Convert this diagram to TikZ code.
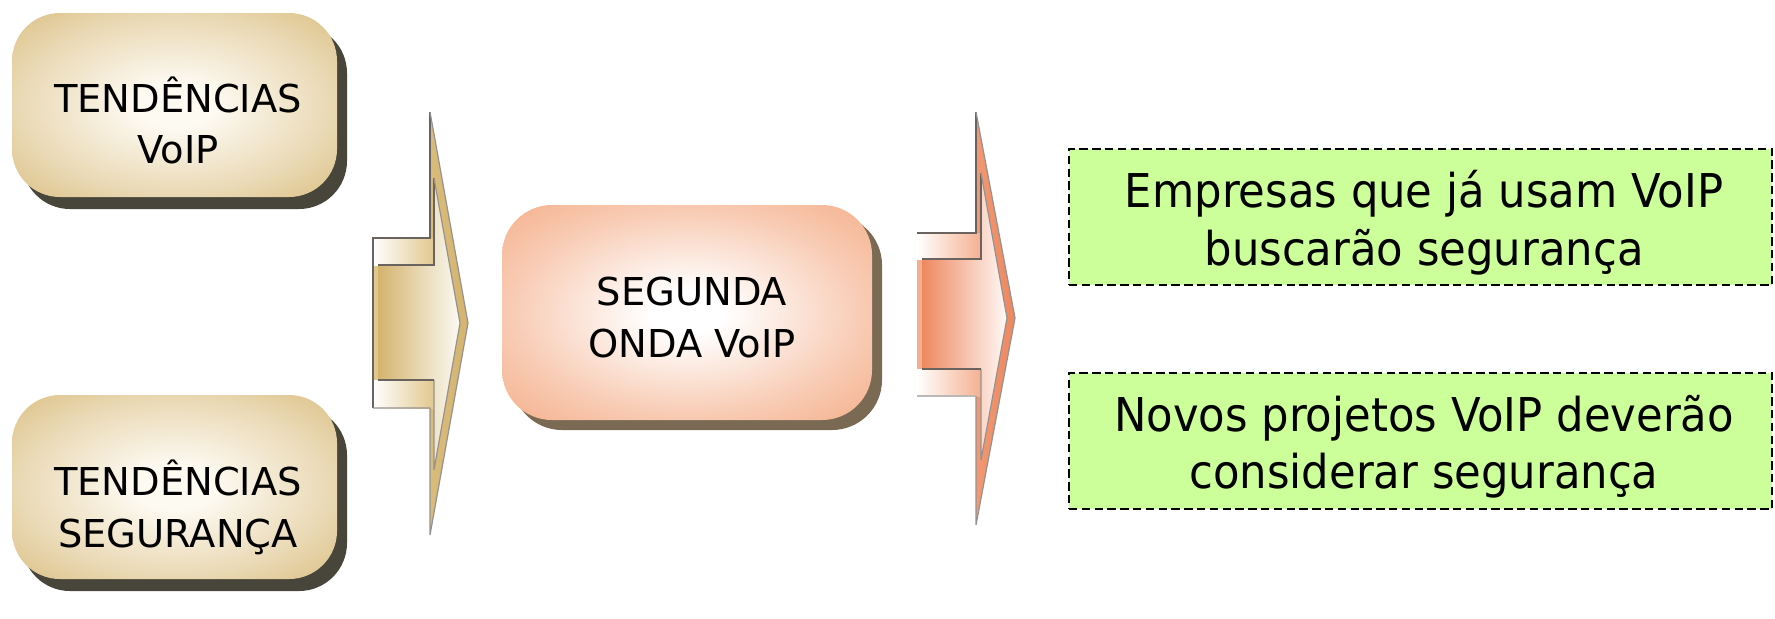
\documentclass[tikz,border=0pt]{standalone}
\usepackage{fontspec}
\setmainfont{DejaVu Sans}
\newfontfamily\condfont[FakeStretch=0.93]{DejaVu Sans}
\usetikzlibrary{shadows}

\definecolor{goldEdge}{RGB}{222,196,140}
\definecolor{goldCore}{RGB}{253,250,242}
\definecolor{goldShadow}{RGB}{72,70,58}
\definecolor{goldDark}{RGB}{212,180,110}
\definecolor{goldMid}{RGB}{226,200,142}
\definecolor{salmonEdge}{RGB}{245,180,146}
\definecolor{salmonShadow}{RGB}{122,106,84}
\definecolor{salDark}{RGB}{238,136,96}
\definecolor{salMid}{RGB}{245,176,144}
\definecolor{leafGreen}{RGB}{204,255,153}
\definecolor{edgeGray}{RGB}{105,100,95}

% soft glow: pale core, edge colour reached only towards the corners
\pgfdeclareradialshading{goldglow}{\pgfpoint{0bp}{0bp}}{%
  color(0bp)=(goldCore); color(6bp)=(goldCore); color(24bp)=(white!35!goldEdge);
  color(34bp)=(goldEdge); color(50bp)=(goldEdge)}
\pgfdeclareradialshading{salmonglow}{\pgfpoint{0bp}{0bp}}{%
  color(0bp)=(white); color(5bp)=(white); color(24bp)=(white!30!salmonEdge);
  color(34bp)=(salmonEdge); color(50bp)=(salmonEdge)}

\tikzset{
  goldbox/.style={rectangle, rounded corners=24pt, shade, shading=goldglow,
    minimum width=162.5pt, minimum height=92pt,
    drop shadow={shadow xshift=5pt, shadow yshift=-6pt, fill=goldShadow, opacity=1}},
  salmonbox/.style={rectangle, rounded corners=25pt, shade, shading=salmonglow,
    minimum width=185pt, minimum height=107.5pt,
    drop shadow={shadow xshift=5pt, shadow yshift=-5pt, fill=salmonShadow, opacity=1}},
  notebox/.style={rectangle, fill=leafGreen, draw=black, line width=1.25pt,
    dash pattern=on 4.2pt off 2.2pt, minimum width=351.5pt, minimum height=68pt},
  capline/.style={anchor=base, inner sep=0pt, font=\fontsize{19.2}{22}\selectfont},
  noteline/.style={anchor=base, inner sep=0pt, font=\condfont\fontsize{23.3}{28}\selectfont},
  darkrule/.style={draw=edgeGray, line width=0.9pt},
  softrule/.style={draw=edgeGray!70, line width=0.6pt},
}

\begin{document}
\begin{tikzpicture}[x=0.5pt, y=-0.5pt]
\useasboundingbox (0,0) rectangle (1775,618);

% --- input boxes ---
\node[goldbox] (voip) at (174.5,105) {};
\node[capline] (voip1) at (178,112) {TENDÊNCIAS};
\node[capline] (voip2) at (178,163) {VoIP};

\node[goldbox] (sec) at (174.5,487) {};
\node[capline] (sec1) at (178,495) {TENDÊNCIAS};
\node[capline] (sec2) at (178,547) {SEGURANÇA};

% --- first block arrow (gold) ---
\path[left color=goldMid, right color=goldDark]
  (373,238) -- (430,238) -- (430,112) -- (468,323) -- (430,535) -- (430,408) -- (373,408) -- cycle;
\path[left color=white, right color=goldMid] (373,238) rectangle (434,265);
\path[left color=white, right color=goldMid] (373,380) rectangle (434,408);
\path[left color=goldDark, middle color=white, right color=white!90!goldMid]
  (378,265) -- (434,265) -- (434,178) -- (460,323) -- (434,470) -- (434,380) -- (378,380) -- cycle;
\draw[darkrule] (373,408) -- (373,238) -- (430,238) -- (430,112);
\draw[softrule] (430,112) -- (468,323) -- (430,535) -- (430,408) -- (373,408);
\draw[darkrule] (378,265) -- (434,265) -- (434,178);
\draw[softrule] (434,178) -- (460,323) -- (434,470) -- (434,380);
\draw[darkrule] (378,380) -- (434,380);

% --- central box ---
\node[salmonbox] (wave) at (687,312.5) {};
\node[capline] (wave1) at (692,305) {SEGUNDA};
\node[capline] (wave2) at (692,357) {ONDA VoIP};

% --- second block arrow (salmon) ---
\path[left color=salMid, right color=salDark]
  (917,233) -- (976,233) -- (976,112) -- (1015,318) -- (976,525) -- (976,396) -- (917,396) -- cycle;
\path[left color=white, right color=salMid] (917,233) rectangle (981,259);
\path[left color=white, right color=salMid] (917,369) rectangle (981,396);
\path[left color=salDark, middle color=white, right color=white!92!salMid]
  (922,259) -- (981,259) -- (981,173) -- (1007,318) -- (981,460) -- (981,369) -- (922,369) -- cycle;
\draw[darkrule] (917,233) -- (976,233) -- (976,112);
\draw[softrule] (976,112) -- (1015,318) -- (976,525) -- (976,396);
\draw[draw=edgeGray!45, line width=0.9pt] (976,396) -- (917,396);
\draw[darkrule] (922,259) -- (981,259) -- (981,173);
\draw[softrule] (981,173) -- (1007,318) -- (981,460) -- (981,369);
\draw[darkrule] (922,369) -- (981,369);

% --- outcome boxes ---
\node[notebox] (firms) at (1420.5,217) {};
\node[noteline] (firms1) at (1424,207) {Empresas que já usam VoIP};
\node[noteline] (firms2) at (1424,265) {buscarão segurança};

\node[notebox] (plans) at (1420.5,441) {};
\node[noteline] (plans1) at (1424,431) {Novos projetos VoIP deverão};
\node[noteline] (plans2) at (1424,488) {considerar segurança};
\end{tikzpicture}
\end{document}
